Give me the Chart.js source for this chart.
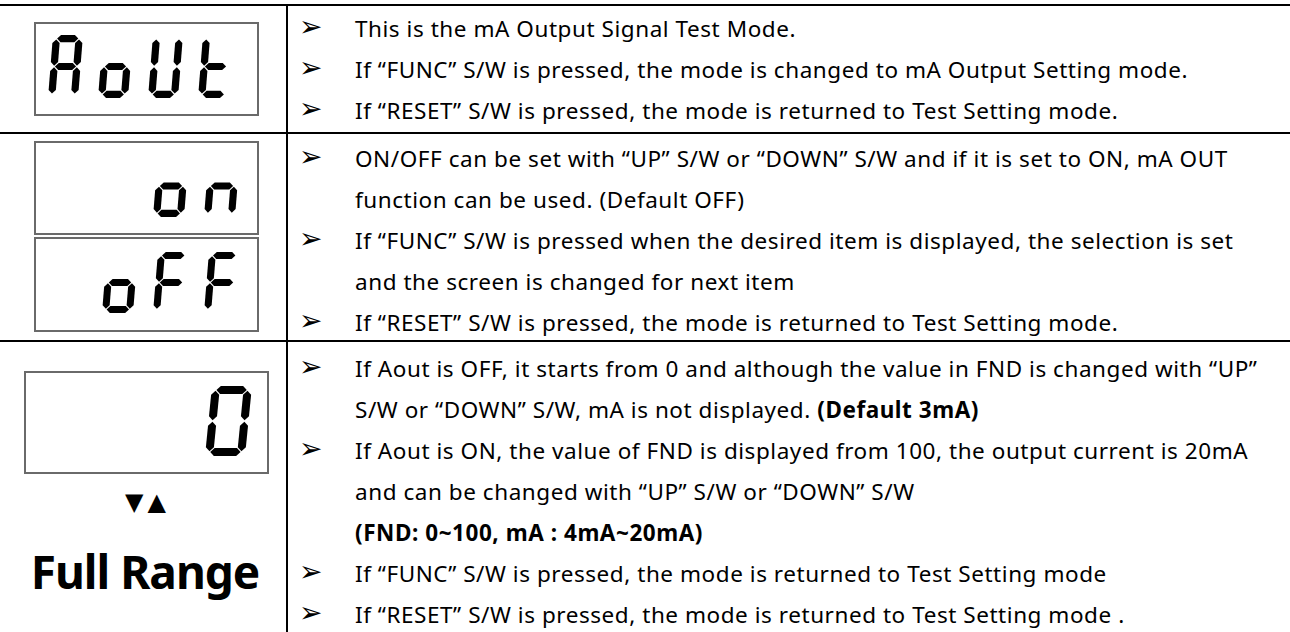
<!DOCTYPE html>
<html>
<head>
<meta charset="utf-8">
<script src="https://cdn.jsdelivr.net/npm/chart.js@4.4.1/dist/chart.umd.min.js"></script>
<style>
  html, body { margin: 0; padding: 0; background: #fff; }
  body { width: 1290px; height: 632px; position: relative; overflow: hidden;
         font-family: "Noto Sans", "DejaVu Sans", sans-serif; color: #000; }
  .hline { position: absolute; left: 0; width: 1290px; height: 2px; background: #000; }
  .vline { position: absolute; left: 286px; top: 5px; width: 2px; height: 627px; background: #000; }
  .fnd { position: absolute; box-sizing: border-box; border: 2px solid #6a6a6a; }
  .fnd canvas { display: block; }
  .line { position: absolute; left: 0; font-size: 22.5px; line-height: 41px; height: 41px; white-space: nowrap;
          letter-spacing: 0.55px; }
  .bul { position: absolute; left: 299px; top: -2px; font-family: "DejaVu Sans", sans-serif; font-size: 28px; letter-spacing: 0; }
  .txt { position: absolute; left: 355px; }
  .arrows { position: absolute; left: 4px; width: 287px; top: 488px; text-align: center;
            font-family: "DejaVu Sans", sans-serif; font-size: 24px; letter-spacing: 4px; }
  .range { position: absolute; left: 0; width: 290px; top: 540px; text-align: center;
           font-weight: bold; font-size: 46px; letter-spacing: -1px; }
</style>
</head>
<body>

<script>
// text shown on each FND (7-segment) display
const fndTexts = ["AoUt", "on", "oFF", "0"];

// segments lit for each character (a b c d e f g)
const segMap = {
  "A": "abcefg", "o": "cdeg", "U": "bcdef", "t": "defg",
  "n": "ceg", "F": "aefg", "0": "abcdef"
};

// description lines per row: [bullet?, html]
const row1Lines = [
  [true, "This is the mA Output Signal Test Mode."],
  [true, "If \u201cFUNC\u201d S/W is pressed, the mode is changed to mA Output Setting mode."],
  [true, "If \u201cRESET\u201d S/W is pressed, the mode is returned to Test Setting mode."]
];
const row2Lines = [
  [true, "ON/OFF can be set with \u201cUP\u201d S/W or \u201cDOWN\u201d S/W and if it is set to ON, mA OUT"],
  [false, "function can be used. (Default OFF)"],
  [true, "If \u201cFUNC\u201d S/W is pressed when the desired item is displayed, the selection is set"],
  [false, "and the screen is changed for next item"],
  [true, "If \u201cRESET\u201d S/W is pressed, the mode is returned to Test Setting mode."]
];
const row3Lines = [
  [true, "If Aout is OFF, it starts from 0 and although the value in FND is changed with \u201cUP\u201d"],
  [false, "S/W or \u201cDOWN\u201d S/W, mA is not displayed. <b>(Default 3mA)</b>"],
  [true, "If Aout is ON, the value of FND is displayed from 100, the output current is 20mA"],
  [false, "and can be changed with \u201cUP\u201d S/W or \u201cDOWN\u201d S/W"],
  [false, "<b>(FND: 0~100, mA : 4mA~20mA)</b>"],
  [true, "If \u201cFUNC\u201d S/W is pressed, the mode is returned to Test Setting mode"],
  [true, "If \u201cRESET\u201d S/W is pressed, the mode is returned to Test Setting mode ."]
];

// table rules
const hLines = [4, 132, 340];

hLines.forEach(y => {
  const d = document.createElement("div");
  d.className = "hline";
  d.style.top = y + "px";
  document.body.appendChild(d);
});
const vl = document.createElement("div");
vl.className = "vline";
document.body.appendChild(vl);

function addLines(lines, firstCenter) {
  lines.forEach((ln, i) => {
    const d = document.createElement("div");
    d.className = "line";
    d.style.top = (firstCenter - 20.5 + i * 41) + "px";
    d.innerHTML = (ln[0] ? '<span class="bul">\u27a2</span>' : "") +
      '<span class="txt">' + ln[1] + "</span>";
    document.body.appendChild(d);
  });
}
addLines(row1Lines, 28);
addLines(row2Lines, 158);
addLines(row3Lines, 368);

// FND boxes: position + digit geometry
const fndBoxes = [
  { x: 34, y: 22, w: 225, h: 94, right: 199, top: 13, dh: 63, dw: 30, pitch: 50, slant: 5 },
  { x: 34, y: 141, w: 225, h: 94, right: 206, top: 14, dh: 62, dw: 31, pitch: 51, slant: 5 },
  { x: 34, y: 237, w: 225, h: 95, right: 206, top: 15, dh: 61, dw: 31, pitch: 51, slant: 5 },
  { x: 24, y: 371, w: 245, h: 103, right: 228, top: 15, dh: 70, dw: 40, pitch: 56, slant: 7 }
];

function hSeg(x1, x2, y, t) {
  return [[x1, y], [x1 + t / 2, y - t / 2], [x2 - t / 2, y - t / 2], [x2, y], [x2 - t / 2, y + t / 2], [x1 + t / 2, y + t / 2]];
}
function vSeg(x, y1, y2, t) {
  return [[x, y1], [x + t / 2, y1 + t / 2], [x + t / 2, y2 - t / 2], [x, y2], [x - t / 2, y2 - t / 2], [x - t / 2, y1 + t / 2]];
}

const segPlugin = {
  id: "sevenSeg",
  afterDatasetsDraw(chart, args, opts) {
    const b = opts.box, text = opts.text;
    const sx = chart.scales.x, sy = chart.scales.y;
    const ctx = chart.ctx;
    const t = b.dh * 0.115, g = 0.8;
    const n = text.length;
    for (let i = 0; i < n; i++) {
      const left = b.right - (n - 1 - i) * b.pitch - b.dw - b.slant;
      const W = b.dw, H = b.dh;
      const x0 = t / 2, x1 = W - t / 2, y0 = t / 2, ym = H / 2, y1 = H - t / 2;
      const segs = {
        a: hSeg(x0 + g, x1 - g, y0, t), g: hSeg(x0 + g, x1 - g, ym, t), d: hSeg(x0 + g, x1 - g, y1, t),
        f: vSeg(x0, y0 + g, ym - g, t), b: vSeg(x1, y0 + g, ym - g, t),
        e: vSeg(x0, ym + g, y1 - g, t), c: vSeg(x1, ym + g, y1 - g, t)
      };
      const lit = segMap[text[i]] || "";
      ctx.save();
      ctx.fillStyle = "#000";
      for (const s of lit) {
        ctx.beginPath();
        segs[s].forEach((p, k) => {
          const vx = left + p[0] + b.slant * (H - p[1]) / H;
          const vy = b.top + p[1];
          const px = sx.getPixelForValue(vx), py = sy.getPixelForValue(vy);
          if (k === 0) ctx.moveTo(px, py); else ctx.lineTo(px, py);
        });
        ctx.closePath();
        ctx.fill();
      }
      ctx.restore();
    }
  }
};

fndBoxes.forEach((b, i) => {
  const wrap = document.createElement("div");
  wrap.className = "fnd";
  wrap.style.left = b.x + "px";
  wrap.style.top = b.y + "px";
  wrap.style.width = b.w + "px";
  wrap.style.height = b.h + "px";
  const cv = document.createElement("canvas");
  cv.width = b.w - 4;
  cv.height = b.h - 4;
  wrap.appendChild(cv);
  document.body.appendChild(wrap);
  const ib = Object.assign({}, b, { right: b.right - 2, top: b.top - 2 });
  new Chart(cv, {
    type: "scatter",
    data: { datasets: [{ data: [] }] },
    options: {
      responsive: false,
      animation: false,
      events: [],
      layout: { padding: 0 },
      scales: {
        x: { display: false, min: 0, max: b.w - 4 },
        y: { display: false, min: 0, max: b.h - 4, reverse: true }
      },
      plugins: {
        legend: { display: false },
        tooltip: { enabled: false },
        sevenSeg: { box: ib, text: fndTexts[i] }
      }
    },
    plugins: [segPlugin]
  });
});

const arr = document.createElement("div");
arr.className = "arrows";
arr.textContent = "\u25bc\u25b2";
document.body.appendChild(arr);
const rg = document.createElement("div");
rg.className = "range";
rg.textContent = "Full Range";
document.body.appendChild(rg);
</script>
</body>
</html>
